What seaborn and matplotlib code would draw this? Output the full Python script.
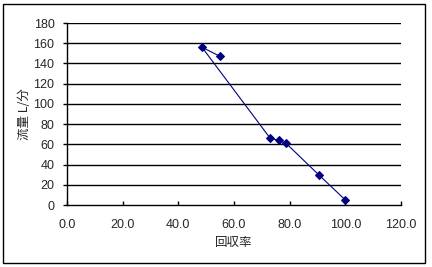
import matplotlib
matplotlib.use("Agg")
import matplotlib.pyplot as plt
import seaborn as sns
import pandas as pd
from matplotlib.patches import Rectangle

recovery = [55.0, 48.5, 73.0, 76.0, 78.7, 90.4, 100.0]
flow = [147, 156, 66, 64, 61, 30, 5]
xticks = [0, 20, 40, 60, 80, 100, 120]
yticks = [0, 20, 40, 60, 80, 100, 120, 140, 160, 180]

sns.set_theme(style="white")
plt.rcParams['font.family'] = ['Liberation Sans', 'Noto Sans CJK JP', 'DejaVu Sans']

W, H = 432, 267
fig = plt.figure(figsize=(W / 100, H / 100), dpi=100)
fig.patch.set_facecolor("white")
fig.patches.append(Rectangle((3 / W, 4 / H), 422 / W, 259 / H, transform=fig.transFigure,
                             fill=False, edgecolor="black", linewidth=1.0))

ax = fig.add_axes([67 / W, (H - 205) / H, (401 - 67) / W, (205 - 23) / H])
df = pd.DataFrame({"x": recovery, "y": flow})
sns.lineplot(data=df, x="x", y="y", sort=False, ax=ax, color="#000080", linewidth=0.8,
             marker="D", markersize=4.5, markeredgecolor="#000080", markerfacecolor="#000080")

ax.set_xlim(0, 120)
ax.set_ylim(0, 180)
ax.set_xticks(xticks)
ax.set_xticklabels([f"{v:.1f}" for v in xticks])
ax.set_yticks(yticks)
ax.set_yticklabels([str(v) for v in yticks])
for v in yticks[1:]:
    ax.axhline(v, color="black", linewidth=1.0, zorder=0)
for s in ["top", "right"]:
    ax.spines[s].set_visible(False)
for s in ["left", "bottom"]:
    ax.spines[s].set_color("black")
    ax.spines[s].set_linewidth(1.0)
ax.tick_params(axis="x", direction="in", length=3, width=1, color="black", pad=10, labelsize=9)
ax.tick_params(axis="y", direction="out", length=3, width=1, color="black", pad=6, labelsize=9)
ax.tick_params(bottom=True, left=True)
ax.set_xlabel("回収率", family=['Noto Sans CJK JP', 'DejaVu Sans'], fontsize=9, labelpad=4)
ax.set_ylabel("流量 L/分", family=['Noto Sans CJK JP', 'DejaVu Sans'], fontsize=9, labelpad=2)
ax.grid(False)

fig.savefig("out.png", dpi=100)
